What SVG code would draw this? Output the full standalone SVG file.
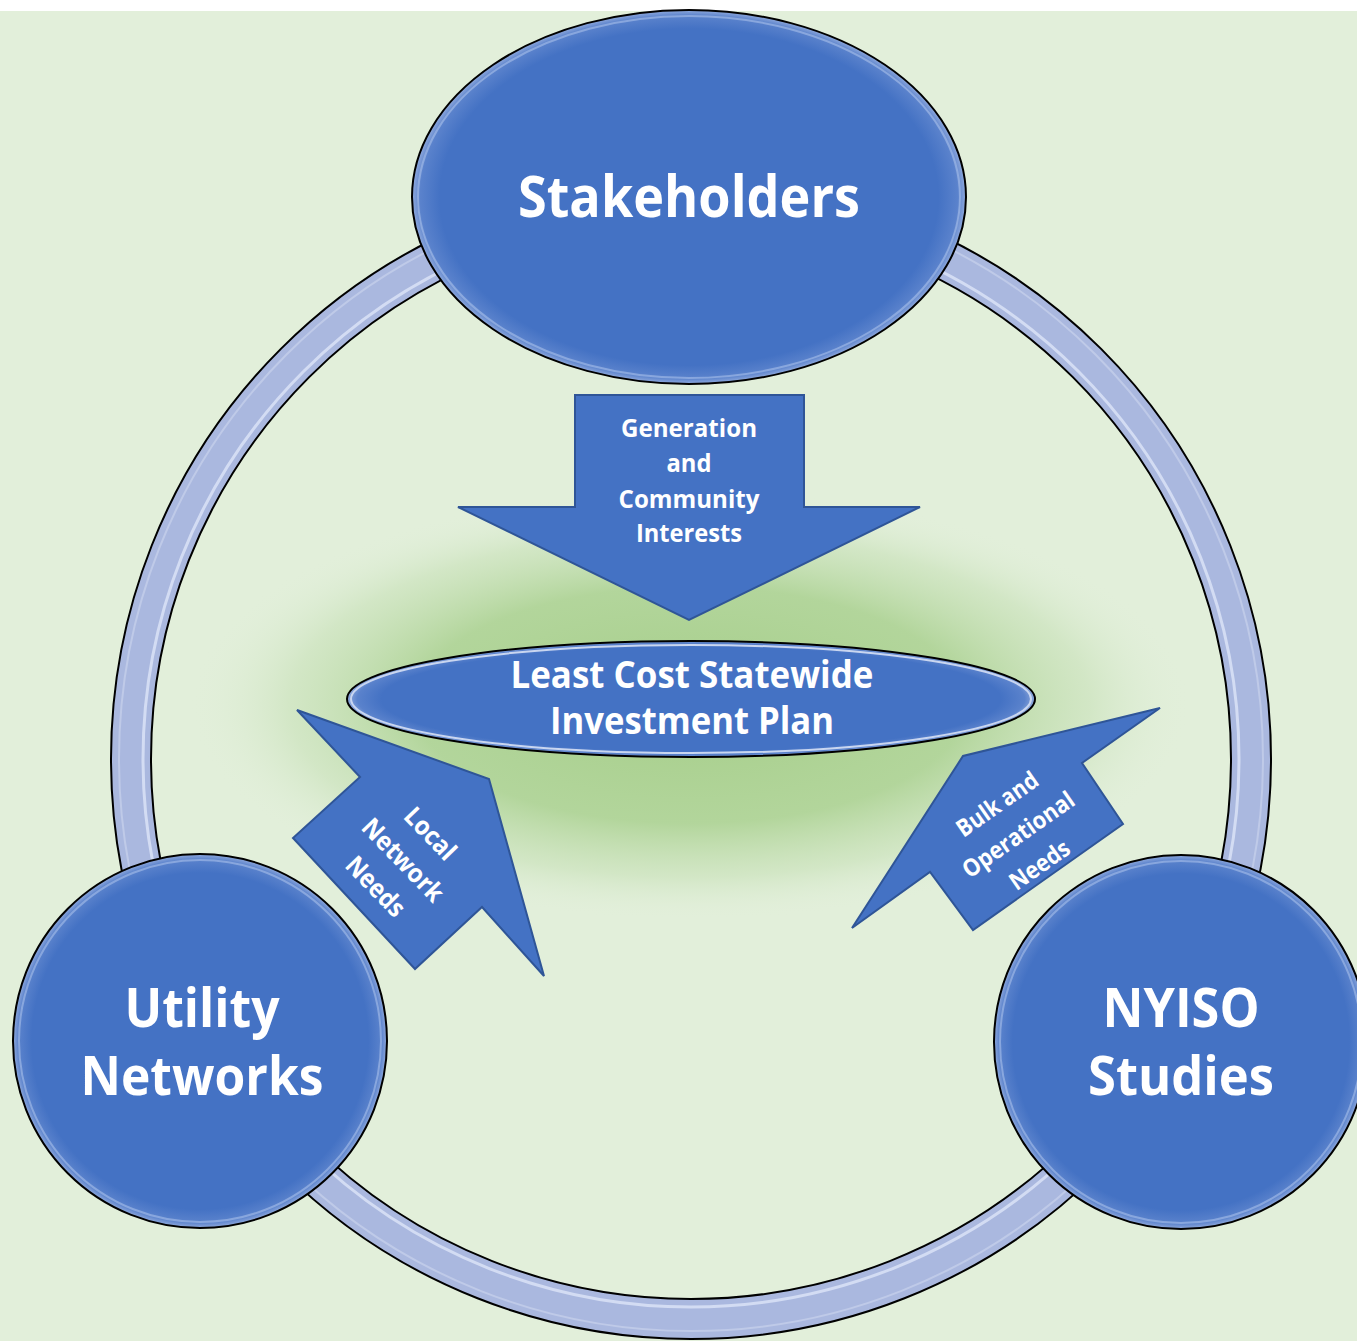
<svg xmlns="http://www.w3.org/2000/svg" width="1357" height="1341" viewBox="0 0 1357 1341">
<defs>
<radialGradient id="glow" cx="0.5" cy="0.5" r="0.5">
<stop offset="0" stop-color="#A6CE8A" stop-opacity="1"/>
<stop offset="0.55" stop-color="#B0D498" stop-opacity="0.95"/>
<stop offset="0.8" stop-color="#C8E1B8" stop-opacity="0.6"/>
<stop offset="1" stop-color="#E2EFDA" stop-opacity="0"/>
</radialGradient>
<radialGradient id="nodeFill" cx="0.5" cy="0.5" r="0.5">
<stop offset="0" stop-color="#4472C4"/>
<stop offset="0.9" stop-color="#4472C4"/>
<stop offset="0.97" stop-color="#5A82CC"/>
<stop offset="1" stop-color="#8FA9DC"/>
</radialGradient>
<style>
.node{fill:url(#nodeFill);stroke:#000;stroke-width:2}
.rim{fill:none;stroke:#9DB6E6;stroke-width:2;opacity:0.7}
.arrow{fill:#4472C4;stroke:#2F5597;stroke-width:2;stroke-linejoin:miter}
.t{font-family:"Open Sans","Liberation Sans",sans-serif;font-weight:bold;fill:#fff;text-anchor:middle}
</style>
</defs>
<rect x="0" y="0" width="1357" height="1341" fill="#fff"/>
<rect x="0" y="11" width="1357" height="1330" fill="#E2EFDA"/>
<ellipse cx="690" cy="705" rx="500" ry="215" fill="url(#glow)"/>
<g id="connectors">
<g id="ring">
<circle cx="691" cy="759" r="560" fill="none" stroke="#AAB8DF" stroke-width="40"/>
<circle cx="691" cy="759" r="548" fill="none" stroke="#D3DCF3" stroke-width="3"/>
<circle cx="691" cy="759" r="572" fill="none" stroke="#BFCAE8" stroke-width="2"/>
<circle cx="691" cy="759" r="580" fill="none" stroke="#000" stroke-width="2"/>
<circle cx="691" cy="759" r="540" fill="none" stroke="#000" stroke-width="2"/>
</g>
<g id="arrow-down">
<polygon class="arrow" points="575,395 804,395 804,507 920,507 689,620 458,507 575,507"/>
<text class="t" font-size="25" x="689" y="437" textLength="136" lengthAdjust="spacingAndGlyphs">Generation</text>
<text class="t" font-size="25" x="689" y="472" textLength="45" lengthAdjust="spacingAndGlyphs">and</text>
<text class="t" font-size="25" x="689" y="508" textLength="141" lengthAdjust="spacingAndGlyphs">Community</text>
<text class="t" font-size="25" x="689" y="542" textLength="106" lengthAdjust="spacingAndGlyphs">Interests</text>
</g>
<g id="arrow-local">
<polygon class="arrow" points="297,710 489,779 544,976 482,907 415,969 293,838 360,777"/>
<g transform="translate(403,860) rotate(46)">
<text class="t" font-size="26" x="0" y="-29" textLength="62" lengthAdjust="spacingAndGlyphs">Local</text>
<text class="t" font-size="26" x="0" y="9" textLength="105" lengthAdjust="spacingAndGlyphs">Network</text>
<text class="t" font-size="26" x="0" y="47" textLength="73" lengthAdjust="spacingAndGlyphs">Needs</text>
</g>
</g>
<g id="arrow-bulk">
<polygon class="arrow" points="852,928 963,756 1160,708 1082,763 1123,824 973,930 930,872"/>
<g transform="translate(1018,834) rotate(-35)">
<text class="t" font-size="24" x="0" y="-28" textLength="94" lengthAdjust="spacingAndGlyphs">Bulk and</text>
<text class="t" font-size="24" x="0" y="9" textLength="131" lengthAdjust="spacingAndGlyphs">Operational</text>
<text class="t" font-size="24" x="0" y="46" textLength="68" lengthAdjust="spacingAndGlyphs">Needs</text>
</g>
</g>
</g>
<g id="stakeholders">
<ellipse class="node" cx="689" cy="197" rx="277" ry="187"/>
<ellipse class="rim" cx="689" cy="197" rx="271" ry="181"/>
<text class="t" font-size="57" x="689" y="217" textLength="342" lengthAdjust="spacingAndGlyphs">Stakeholders</text>
</g>
<g id="plan">
<ellipse class="node" cx="691" cy="699" rx="344" ry="58"/>
<ellipse fill="none" stroke="#C9D6F0" stroke-width="2" cx="691" cy="699" rx="340" ry="54"/>
<text class="t" font-size="37" x="692" y="688" textLength="363" lengthAdjust="spacingAndGlyphs">Least Cost Statewide</text>
<text class="t" font-size="37" x="692" y="734" textLength="284" lengthAdjust="spacingAndGlyphs">Investment Plan</text>
</g>
<g id="utility">
<circle class="node" cx="200" cy="1041" r="187"/>
<circle class="rim" cx="200" cy="1041" r="181"/>
<text class="t" font-size="54" x="202" y="1027" textLength="155" lengthAdjust="spacingAndGlyphs">Utility</text>
<text class="t" font-size="54" x="202" y="1095" textLength="243" lengthAdjust="spacingAndGlyphs">Networks</text>
</g>
<g id="nyiso">
<circle class="node" cx="1181" cy="1042" r="187"/>
<circle class="rim" cx="1181" cy="1042" r="181"/>
<text class="t" font-size="54" x="1181" y="1027" textLength="157" lengthAdjust="spacingAndGlyphs">NYISO</text>
<text class="t" font-size="54" x="1181" y="1095" textLength="186" lengthAdjust="spacingAndGlyphs">Studies</text>
</g>
</svg>
